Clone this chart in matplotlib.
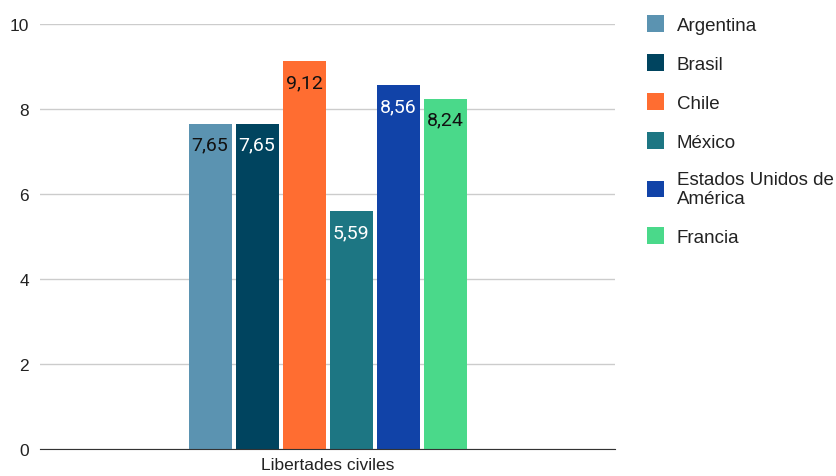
import matplotlib
import matplotlib.pyplot as plt
from matplotlib.patches import Patch

matplotlib.use('Agg')

# data
category = 'Libertades civiles'
countries = ['Argentina', 'Brasil', 'Chile', 'México', 'Estados Unidos de\nAmérica', 'Francia']
values = [7.65, 7.65, 9.12, 5.59, 8.56, 8.24]
colors = ['#5b93b1', '#00445f', '#ff6d31', '#1d7683', '#1143a8', '#4ad98a']
label_colors = ['#111111', 'white', '#111111', 'white', 'white', '#111111']
yticks = [0, 2, 4, 6, 8, 10]

plt.rcParams['font.family'] = ['Liberation Sans', 'DejaVu Sans']

fig = plt.figure(figsize=(8.36, 4.77), dpi=100)
ax = fig.add_axes([40 / 836, 1 - 450 / 477, 575 / 836, 425 / 477])

width = 43 / 575
step = 47 / 575
n = len(values)
for i, (v, c, lc) in enumerate(zip(values, colors, label_colors)):
    x = (i - (n - 1) / 2) * step
    ax.bar(x, v, width=width, color=c, zorder=3)
    ax.annotate(f'{v:.2f}'.replace('.', ','), (x, v), xytext=(0, -15),
                textcoords='offset points', ha='center', va='center',
                color=lc, fontsize=14, family=['Roboto', 'DejaVu Sans'], zorder=4)

ax.set_xlim(-0.5, 0.5)
ax.set_ylim(0, 10)
ax.set_yticks(yticks)
ax.set_yticklabels([str(t) for t in yticks])
ax.set_xticks([0])
ax.set_xticklabels([category])
ax.grid(axis='y', color='#cccccc', linewidth=1, zorder=0)
for s in ['top', 'right', 'left']:
    ax.spines[s].set_visible(False)
ax.spines['bottom'].set_color('#333333')
ax.spines['bottom'].set_zorder(5)
ax.tick_params(axis='both', length=0, labelsize=12.5, colors='#222222', pad=8)
ax.tick_params(axis='x', pad=6)

handles = [Patch(facecolor=c, edgecolor='none') for c in colors]
leg = fig.legend(handles, countries, loc='upper left', bbox_to_anchor=(647 / 836, 1 - 16 / 477),
                 frameon=False, fontsize=13.5, handlelength=0.9, handleheight=1.0,
                 handletextpad=0.7, labelspacing=1.08, labelcolor='#222222',
                 borderpad=0, borderaxespad=0)
for t in leg.get_texts():
    t.set_linespacing(1.1)

fig.savefig('out.png', dpi=100)
